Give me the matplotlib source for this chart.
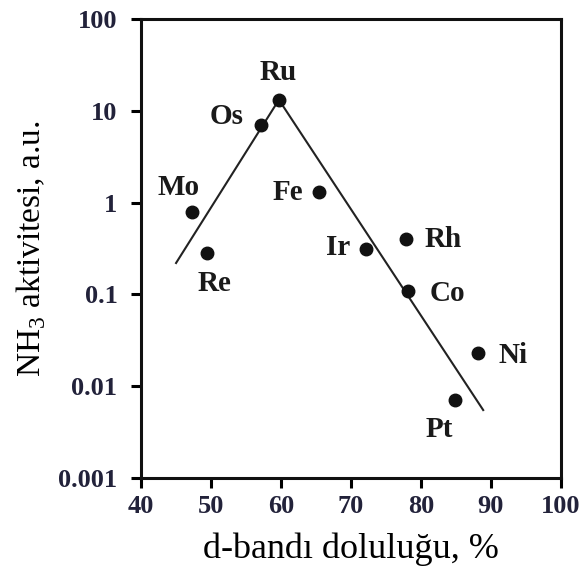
import matplotlib
matplotlib.use("Agg")
import matplotlib.pyplot as plt
from matplotlib.ticker import FixedLocator, FixedFormatter, NullLocator

plt.rcParams['font.family'] = ['Liberation Serif', 'DejaVu Serif']
plt.rcParams['mathtext.fontset'] = 'custom'
plt.rcParams['mathtext.rm'] = 'Liberation Serif'

# metals: d-band filling (%) and NH3 activity (a.u.)
metals = ["Mo", "Re", "Os", "Ru", "Fe", "Ir", "Rh", "Co", "Ni", "Pt"]
d_fill = [47.3, 49.4, 57.1, 59.7, 65.4, 72.1, 77.9, 78.1, 88.1, 84.9]
activity = [0.80, 0.28, 7.0, 13.2, 1.32, 0.31, 0.40, 0.11, 0.023, 0.007]

# volcano trend line
trend_x = [45.0, 59.7, 88.9]
trend_y = [0.22, 13.2, 0.0055]

x_ticks = [40, 50, 60, 70, 80, 90, 100]
y_ticks = [0.001, 0.01, 0.1, 1, 10, 100]
y_tick_labels = ["0.001", "0.01", "0.1", "1", "10", "100"]

# label offsets in pixels (layout only)
offsets = {"Mo": (-14, 24), "Re": (8, -30), "Os": (-34, 9), "Ru": (-1, 27),
           "Fe": (-31, -1), "Ir": (-28, 2), "Rh": (37, 0), "Co": (40, -3),
           "Ni": (35, -2), "Pt": (-16, -29)}

fig = plt.figure(figsize=(5.83, 5.78), dpi=100)
ax = fig.add_axes([0.242, 0.173, 0.720, 0.794])

ax.plot(trend_x, trend_y, color="#222222", lw=1.5, zorder=2)
ax.plot(d_fill, activity, "o", color="#111111", ms=9, zorder=3)

for name, x, y in zip(metals, d_fill, activity):
    dx, dy = offsets[name]
    ax.annotate(name, (x, y), xytext=(dx, dy), textcoords="offset pixels",
                ha="center", va="center", fontsize=21, fontweight="bold",
                color="#1a1a1a")

ax.set_yscale("log")
ax.set_xlim(40, 100)
ax.set_ylim(0.001, 100)
ax.xaxis.set_major_locator(FixedLocator(x_ticks))
ax.yaxis.set_major_locator(FixedLocator(y_ticks))
ax.yaxis.set_major_formatter(FixedFormatter(y_tick_labels))
ax.yaxis.set_minor_locator(NullLocator())

for s in ax.spines.values():
    s.set_linewidth(2.2)
    s.set_color("#111111")
ax.tick_params(direction="out", length=7, width=2.2, labelsize=19,
               labelcolor="#22223a")
ax.tick_params(axis="x", pad=5)
ax.tick_params(axis="y", pad=10)
for lab in ax.get_xticklabels() + ax.get_yticklabels():
    lab.set_fontweight("bold")

ax.set_xlabel("d-bandı doluluğu, %", fontsize=26, va="center")
ax.set_ylabel("NH$_3$ aktivitesi, a.u.", fontsize=24, va="center")
ax.xaxis.set_label_coords(0.5, -0.155)
ax.yaxis.set_label_coords(-0.262, 0.5)

fig.savefig("out.png", dpi=100)
